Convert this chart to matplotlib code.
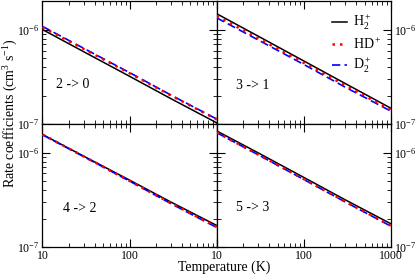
import numpy as np
import matplotlib
matplotlib.use("Agg")
import matplotlib.pyplot as plt
from matplotlib.ticker import LogLocator, NullFormatter

plt.rcParams['font.family'] = ['Liberation Serif', 'DejaVu Serif']
plt.rcParams['mathtext.fontset'] = 'custom'
plt.rcParams['mathtext.rm'] = 'Liberation Serif'
plt.rcParams['mathtext.it'] = 'Liberation Serif:italic'
plt.rcParams['mathtext.bf'] = 'Liberation Serif:bold'

# データ
temperature = [10, 30, 100, 300, 1000]
transitions = ["2 -> 0", "3 -> 1", "4 -> 2", "5 -> 3"]
h2_rates = [
    [1.00e-6, 5.8e-7, 3.2e-7, 1.85e-7, 1.03e-7],
    [1.47e-6, 8.5e-7, 4.65e-7, 2.68e-7, 1.47e-7],
    [1.55e-6, 9.1e-7, 5.1e-7, 2.98e-7, 1.69e-7],
    [1.69e-6, 9.9e-7, 5.45e-7, 3.15e-7, 1.76e-7],
]
hd_rates = [
    [1.06e-6, 6.2e-7, 3.45e-7, 2.0e-7, 1.12e-7],
    [1.39e-6, 8.05e-7, 4.43e-7, 2.56e-7, 1.41e-7],
    [1.55e-6, 9.05e-7, 5.0e-7, 2.9e-7, 1.63e-7],
    [1.63e-6, 9.5e-7, 5.23e-7, 3.02e-7, 1.68e-7],
]
d2_rates = [
    [1.08e-6, 6.3e-7, 3.5e-7, 2.02e-7, 1.13e-7],
    [1.33e-6, 7.75e-7, 4.27e-7, 2.45e-7, 1.37e-7],
    [1.54e-6, 9.0e-7, 4.98e-7, 2.87e-7, 1.61e-7],
    [1.62e-6, 9.45e-7, 5.18e-7, 2.99e-7, 1.66e-7],
]
x_ticks = [10, 100, 1000]
x_ticklabels_left = ["10", "100", ""]
x_ticklabels_right = ["10", "100", "1000"]
y_ticks = [1e-7, 1e-6]
y_ticklabels = [r"10$^{\mathregular{-7}}$", r"10$^{\mathregular{-6}}$"]
text_pos = [(0.075, 0.325), (0.11, 0.31), (0.12, 0.315), (0.11, 0.32)]

fig, axes = plt.subplots(2, 2, figsize=(4.15, 2.75), dpi=100)
plt.subplots_adjust(left=0.1024, right=0.942, top=0.996, bottom=0.1018,
                    wspace=0, hspace=0)

for i, ax in enumerate(axes.flat):
    ax.plot(temperature, h2_rates[i], color="black", lw=1.1,
            label="H$_2^+$", zorder=3)
    ax.plot(temperature, d2_rates[i], color="blue", lw=1.2,
            linestyle=(0, (5, 2.5)), label="D$_2^+$", zorder=3)
    ax.plot(temperature, hd_rates[i], color="red", lw=1.8,
            linestyle=(0, (1, 2)), label="HD$^+$", zorder=4)
    ax.set_xscale("log")
    ax.set_yscale("log")
    ax.set_xlim(10, 1000)
    ax.set_ylim(1e-7, 2e-6)
    ax.text(text_pos[i][0], text_pos[i][1], transitions[i],
            transform=ax.transAxes, fontsize=10, va="center")
    ax.xaxis.set_minor_locator(LogLocator(subs=np.arange(2, 10)))
    ax.yaxis.set_minor_locator(LogLocator(subs=np.arange(2, 10)))
    ax.xaxis.set_minor_formatter(NullFormatter())
    ax.yaxis.set_minor_formatter(NullFormatter())
    row, col = divmod(i, 2)
    ax.set_xticks(x_ticks)
    if col == 0:
        ax.set_xticklabels(x_ticklabels_left)
    else:
        ax.set_xticklabels(x_ticklabels_right)
    ax.set_yticks(y_ticks)
    ax.set_yticklabels(y_ticklabels)
    ax.tick_params(which="both", direction="in", top=True, bottom=True,
                   left=True, right=True, labelsize=8.5, pad=2)
    ax.tick_params(which="major", length=6)
    ax.tick_params(which="minor", length=3)
    for s in ax.spines.values():
        s.set_linewidth(0.9)
    if row == 0:
        ax.tick_params(labelbottom=False)
    if col == 1:
        ax.tick_params(labelleft=False, labelright=True)

# 凡例
h, l = axes[0, 1].get_legend_handles_labels()
order = [0, 2, 1]
axes[0, 1].legend([h[k] for k in order], [l[k] for k in order],
                  loc="upper right", bbox_to_anchor=(1.0, 0.98),
                  frameon=False, fontsize=10, handlelength=1.1,
                  handletextpad=0.4, labelspacing=0.3, borderaxespad=0.3)

fig.text(0.026, 0.59, "Rate coefficients (cm$^{3}$ s$^{-1}$)",
         rotation=90, ha="center", va="center", fontsize=10)
fig.text(0.54, 0.005, "Temperature (K)", ha="center", va="bottom",
         fontsize=10)

fig.savefig("out.png", dpi=100)
plt.close()
